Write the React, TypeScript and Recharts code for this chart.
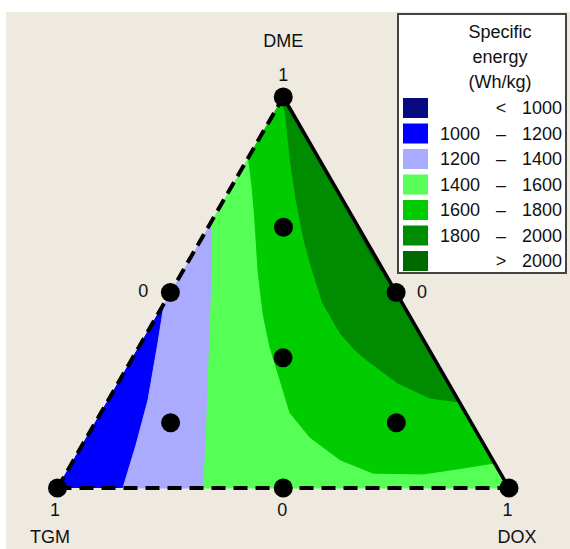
import React from 'react';
import { ScatterChart, Scatter, XAxis, YAxis, Legend } from 'recharts';

// compositions are [DME, DOX]; TGM = 1 - DME - DOX
const components = ['DME', 'TGM', 'DOX'];
const vertexTicks = ['1', '1', '1'];
const edgeTicks = ['0', '0', '0'];

const vertexTop = [1, 0];
const vertexLeft = [0, 0];
const vertexRight = [0, 1];

// contour lines
const contour1200 = [[0.473, 0], [0.371, 0.037], [0.225, 0.088], [0.11, 0.119], [0, 0.145]];
const contour1400 = [[0.683, 0], [0.583, 0.051], [0.481, 0.1], [0.327, 0.172], [0.174, 0.244], [0, 0.324]];
const contour1600 = [
  [0.846, 0], [0.775, 0.043], [0.711, 0.08], [0.634, 0.123], [0.558, 0.165], [0.448, 0.231],
  [0.361, 0.29], [0.276, 0.355], [0.192, 0.419], [0.13, 0.494], [0.072, 0.59], [0.038, 0.68],
  [0.036, 0.792], [0.051, 0.873], [0.064, 0.936],
];
const contour1800 = [
  [1, 0], [0.941, 0.036], [0.839, 0.096], [0.737, 0.16], [0.634, 0.229], [0.558, 0.285],
  [0.473, 0.351], [0.396, 0.428], [0.353, 0.482], [0.327, 0.522], [0.269, 0.618], [0.23, 0.71],
  [0.22, 0.78],
];
const contour2000 = [[0.724, 0.277], [0.647, 0.347], [0.573, 0.419], [0.506, 0.494]];

// mixture design points
const designDME = [1, 0, 0, 0.5, 0.5, 0, 0.667, 0.167, 0.167, 0.333];
const designDOX = [0, 0, 1, 0, 0.5, 0.5, 0.167, 0.167, 0.667, 0.333];

// legend
const bandLow = ['', '1000', '1200', '1400', '1600', '1800', ''];
const bandSep = ['<', '–', '–', '–', '–', '–', '>'];
const bandHigh = ['1000', '1200', '1400', '1600', '1800', '2000', '2000'];
const bandColors = ['#0A0A80', '#0000FF', '#AAAAFF', '#55FF55', '#00CC00', '#008C00', '#006A00'];

// x runs along the base, y is the DME height fraction (the chart margins give the 60° shape)
const toXY = ([dme, dox]: number[]) => ({ x: dox + dme / 2, y: dme });
const rev = (a: number[][]) => [...a].reverse();

const regions = [
  { color: bandColors[1], pts: [vertexLeft, ...contour1200] },
  { color: bandColors[2], pts: [...contour1200, ...rev(contour1400)] },
  { color: bandColors[3], pts: [...contour1400, vertexRight, ...rev(contour1600)] },
  { color: bandColors[4], pts: [vertexTop, ...contour1600, ...rev(contour1800)] },
  { color: bandColors[5], pts: [...contour1800] },
  { color: bandColors[6], pts: [...contour2000] },
];

const edges = [
  { pts: [vertexLeft, vertexTop], dash: '13 7', w: 4 },
  { pts: [vertexLeft, vertexRight], dash: '14 8', w: 4 },
  { pts: [vertexTop, vertexRight], dash: undefined, w: 3.5 },
];

const mids = [[0.5, 0], [0.5, 0.5], [0, 0.5]];
const labelData = [
  { ...toXY(vertexTop), text: components[0], dx: 0, dy: -56 },
  { ...toXY(vertexTop), text: vertexTicks[0], dx: 0, dy: -22 },
  { ...toXY(vertexLeft), text: vertexTicks[1], dx: -2.5, dy: 22 },
  { ...toXY(vertexLeft), text: components[1], dx: -7.5, dy: 49 },
  { ...toXY(vertexRight), text: vertexTicks[2], dx: -1.5, dy: 22 },
  { ...toXY(vertexRight), text: components[2], dx: 8, dy: 49 },
  { ...toXY(mids[0]), text: edgeTicks[0], dx: -27, dy: -2 },
  { ...toXY(mids[1]), text: edgeTicks[1], dx: 26, dy: -1 },
  { ...toXY(mids[2]), text: edgeTicks[2], dx: -1, dy: 22 },
];

const font = '"Liberation Sans", Arial, sans-serif';

const Nothing = () => <g />;

const LegendBox = () => (
  <svg width={170} height={261} style={{ display: 'block' }}>
    <rect x={1} y={1} width={168} height={259} fill="#fff" stroke="#444" strokeWidth={2} />
    {['Specific', 'energy', '(Wh/kg)'].map((t, i) => (
      <text key={t} x={103} y={19 + i * 25} textAnchor="middle" dominantBaseline="central"
        fontFamily={font} fontSize={18} fill="#111">{t}</text>
    ))}
    {bandColors.map((c, i) => {
      const cy = 95 + i * 25.5;
      return (
        <g key={i}>
          <rect x={6} y={cy - 10} width={25} height={20} fill={c} />
          <text x={83} y={cy} textAnchor="end" dominantBaseline="central" fontFamily={font} fontSize={18} fill="#111">{bandLow[i]}</text>
          <text x={104} y={cy} textAnchor="middle" dominantBaseline="central" fontFamily={font} fontSize={18} fill="#111">{bandSep[i]}</text>
          <text x={125} y={cy} textAnchor="start" dominantBaseline="central" fontFamily={font} fontSize={18} fill="#111">{bandHigh[i]}</text>
        </g>
      );
    })}
  </svg>
);

export default function App() {
  const dots = designDME.map((d, i) => toXY([d, designDOX[i]]));
  return (
    <div style={{ position: 'absolute', left: 0, top: 0, width: 570, height: 549, background: '#fff', overflow: 'hidden' }}>
      <div style={{ position: 'absolute', left: 6, top: 12, width: 564, height: 537, background: '#EEEAE0' }} />
      <div style={{ position: 'absolute', left: 0, top: 0 }}>
        <ScatterChart width={570} height={549} margin={{ top: 97, right: 61, bottom: 61, left: 57.5 }}>
          <XAxis type="number" dataKey="x" domain={[0, 1]} hide />
          <YAxis type="number" dataKey="y" domain={[0, 1]} hide />
          {regions.map((r, i) => (
            <Scatter key={'r' + i} data={r.pts.map(toXY)} shape={Nothing} isAnimationActive={false}
              line={{ fill: r.color, stroke: r.color, strokeWidth: 1 }} />
          ))}
          {edges.map((e, i) => (
            <Scatter key={'e' + i} data={e.pts.map(toXY)} shape={Nothing} isAnimationActive={false}
              line={{ stroke: '#000', strokeWidth: e.w, strokeDasharray: e.dash, fill: 'none' }} />
          ))}
          <Scatter data={dots} isAnimationActive={false}
            shape={(p: any) => <circle cx={p.cx} cy={p.cy} r={9.5} fill="#000" />} />
          <Scatter data={labelData} isAnimationActive={false}
            shape={(p: any) => (
              <text x={p.cx + p.payload.dx} y={p.cy + p.payload.dy} textAnchor="middle" dominantBaseline="central"
                fontFamily={font} fontSize={18} fill="#111">{p.payload.text}</text>
            )} />
          <Legend layout="vertical" align="center" verticalAlign="middle"
            wrapperStyle={{ left: 397, top: 13, width: 170, height: 261 }}
            content={() => <LegendBox />} />
        </ScatterChart>
      </div>
    </div>
  );
}
